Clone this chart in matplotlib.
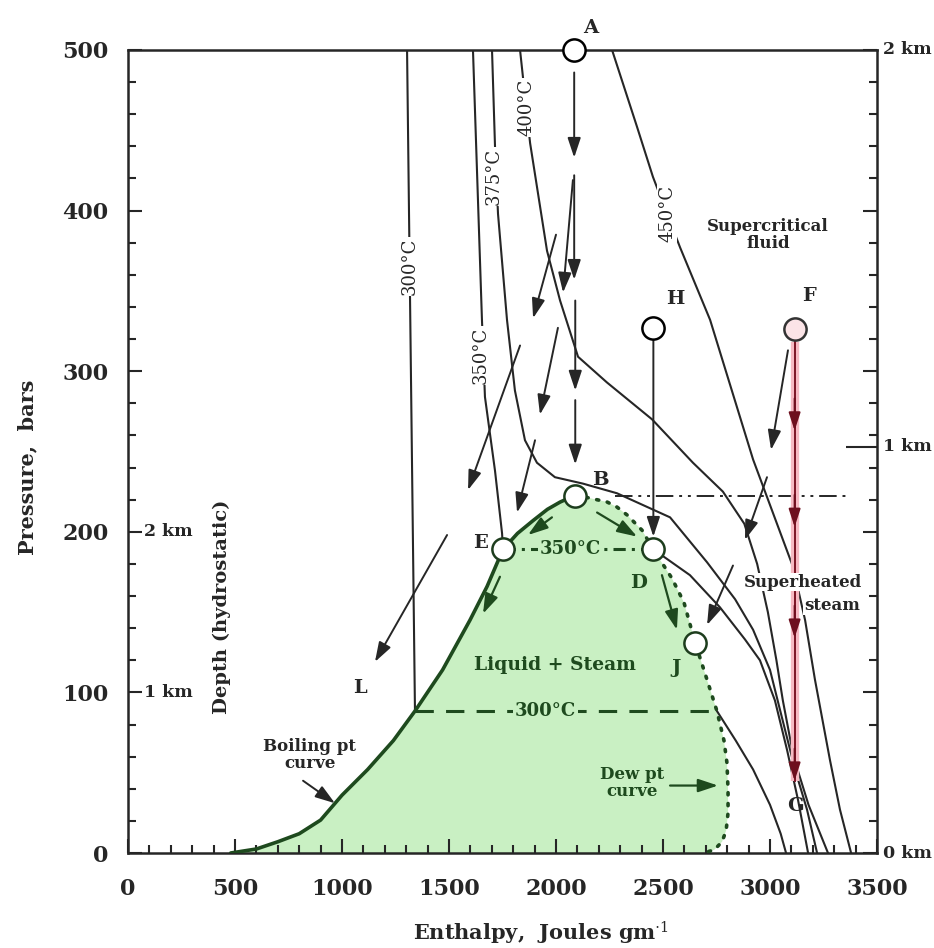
import numpy as np
import matplotlib.pyplot as plt
from matplotlib.ticker import MultipleLocator

plt.rcParams['font.family'] = ['DejaVu Serif']
plt.rcParams['mathtext.fontset'] = 'dejavuserif'

# two-phase dome, enthalpy (J/g) vs pressure (bars)
boil_h = [480, 600, 700, 800, 900, 1000, 1120, 1240, 1341, 1470, 1598, 1678, 1752, 1820, 1893, 1960, 2019, 2060, 2090]
boil_p = [0, 2.5, 7, 12, 20.5, 36, 52, 70, 88.4, 114, 145, 166, 189, 199, 207, 214, 218.5, 221, 222]
dew_h = [2090, 2140, 2238, 2285, 2332, 2402, 2455, 2542, 2598, 2650, 2696, 2752, 2785, 2799, 2804, 2804, 2795, 2776, 2740, 2690]
dew_p = [222, 221.5, 218.6, 215.4, 210.5, 201, 189, 171, 156, 131, 112, 88.4, 70, 56, 39, 25, 14, 7, 2, 0]

# isotherms
t300_liq_h = [1304, 1341]
t300_liq_p = [500, 88.4]
t300_vap_h = [2752, 2840, 2921, 3000, 3050, 3075]
t300_vap_p = [88.4, 70, 52, 30, 12, 0]
t350_liq_h = [1612, 1654, 1668, 1715, 1748, 1752]
t350_liq_p = [500, 332, 284, 238, 199, 189]
t350_vap_h = [2455, 2509, 2626, 2766, 2883, 2953, 3023, 3080, 3131, 3178]
t350_vap_p = [189, 184, 173, 153, 133, 120, 95, 64, 33, 0]
t375_h = [1701, 1715, 1729, 1771, 1808, 1855, 1911, 1995, 2126, 2285, 2533, 2706, 2837, 2921, 3000, 3047, 3117, 3173, 3220]
t375_p = [500, 440, 398, 332, 288, 257, 243, 234, 230, 224, 209, 181, 158, 139, 114, 89, 52, 27, 0]
t400_h = [1832, 1861, 1879, 1958, 2019, 2103, 2238, 2449, 2640, 2780, 2880, 2940, 2990, 3030, 3060, 3110, 3180, 3271]
t400_p = [500, 464, 442, 375, 344, 309, 293, 270, 243, 225, 205, 180, 150, 120, 95, 60, 30, 0]
t450_h = [2262, 2379, 2453, 2519, 2580, 2720, 2921, 3108, 3164, 3210, 3280, 3327, 3379]
t450_p = [500, 452, 421, 398, 377, 332, 245, 178, 145, 108, 58, 27, 0]

iso_labels = ['300°C', '350°C', '375°C', '400°C', '450°C']
iso_label_h = [1316, 1650, 1708, 1861, 2519]
iso_label_p = [365, 310, 421, 464, 398]

# tie lines across the dome
tie300_h = [1341, 2752]
tie300_p = 88.4
tie350_h = [1752, 2455]
tie350_p = 189
crit_h = [2276, 3379]
crit_p = 222

# state points
pt_names = ['A', 'B', 'E', 'D', 'J', 'H', 'F']
pt_h = [2085, 2090, 1752, 2455, 2650, 2455, 3115]
pt_p = [500, 222, 189, 189, 131, 327, 326]
pt_edge = ['black', '#1d3d1d', '#1d3d1d', '#1d3d1d', '#1d3d1d', 'black', '#333333']
pt_face = ['white', 'white', 'white', 'white', 'white', 'white', '#fbe4e7']

# black process arrows (start h, start p, end h, end p)
arr_black = [
    (2085, 486, 2085, 433), (2085, 422, 2085, 357), (2090, 344, 2090, 288), (2090, 282, 2090, 242),
    (2079, 419, 2033, 349), (2000, 385, 1893, 333), (2009, 327, 1925, 273), (1902, 257, 1818, 212),
    (1832, 316, 1589, 226), (1491, 198, 1154, 119), (2455, 319, 2455, 197),
    (3084, 313, 3005, 251), (2986, 234, 2883, 195), (2827, 179, 2706, 142),
]
# green arrows inside the dome
arr_green = [
    (1981, 209, 1869, 198), (2192, 212, 2379, 197), (1738, 172, 1659, 149), (2495, 173, 2565, 139),
]
# F -> G descent
fg_h = 3115
fg_top = 318
fg_bottom = 45
fg_heads = [263, 203, 134, 45]

fig = plt.figure(figsize=(9.34, 9.48), dpi=100)
ax = fig.add_axes([128 / 934, 1 - 853 / 948, 749 / 934, 803 / 948])
ax.set_xlim(0, 3500)
ax.set_ylim(0, 500)

green_fill = '#c9f0c3'
dark_green = '#1e4a1e'
ink = '#262626'
head = '-|>,head_length=0.6,head_width=0.2'

ax.fill(np.r_[boil_h, dew_h], np.r_[boil_p, dew_p], color=green_fill, lw=0, zorder=1)
ax.plot(boil_h, boil_p, color=dark_green, lw=2.6, zorder=3, solid_capstyle='round')
ax.plot(dew_h, dew_p, color=dark_green, lw=2.6, ls=(0, (0.6, 2.4)), dash_capstyle='round', zorder=3)

for hh, pp in [(t300_liq_h, t300_liq_p), (t300_vap_h, t300_vap_p), (t350_liq_h, t350_liq_p),
               (t350_vap_h, t350_vap_p), (t375_h, t375_p), (t400_h, t400_p), (t450_h, t450_p)]:
    ax.plot(hh, pp, color=ink, lw=1.5, zorder=2)

ax.plot(tie300_h, [tie300_p] * 2, color=dark_green, lw=2.2, ls=(0, (6, 4)), zorder=2)
ax.plot(tie350_h, [tie350_p] * 2, color=dark_green, lw=2.2, ls=(0, (4, 2, 1, 2)), zorder=2)
ax.plot(crit_h, [crit_p] * 2, color=ink, lw=1.4, ls=(0, (9, 3, 1.5, 3, 1.5, 3)), zorder=2)

for lab, hh, pp in zip(iso_labels, iso_label_h, iso_label_p):
    ax.text(hh, pp, lab, rotation=90, ha='center', va='center', fontsize=13, color=ink, zorder=4,
            bbox=dict(boxstyle='square,pad=0.05', fc='white', ec='none'))

ax.text(1949, 88.4, '300°C', ha='center', va='center', fontsize=13, fontweight='bold', color=dark_green,
        zorder=4, bbox=dict(boxstyle='square,pad=0.1', fc=green_fill, ec='none'))
ax.text(2066, 189, '350°C', ha='center', va='center', fontsize=13, fontweight='bold', color=dark_green,
        zorder=4, bbox=dict(boxstyle='square,pad=0.1', fc=green_fill, ec='none'))

# F -> G path with pink highlight
ax.plot([fg_h, fg_h], [fg_top, fg_bottom], color='#f6b9c2', lw=6, zorder=2, solid_capstyle='butt')
ax.plot([fg_h, fg_h], [fg_top, fg_bottom], color='#7a1424', lw=1.4, zorder=3)
for pe in fg_heads:
    ax.annotate('', xy=(fg_h, pe), xytext=(fg_h, pe + 20),
                arrowprops=dict(arrowstyle='-|>,head_length=0.55,head_width=0.18', color='#6e0f1e',
                                lw=1.4, mutation_scale=20, shrinkA=0, shrinkB=0), zorder=3)

for x0, y0, x1, y1 in arr_black:
    ax.annotate('', xy=(x1, y1), xytext=(x0, y0),
                arrowprops=dict(arrowstyle=head, color=ink, lw=1.4, mutation_scale=20,
                                shrinkA=0, shrinkB=0), zorder=3)
for x0, y0, x1, y1 in arr_green:
    ax.annotate('', xy=(x1, y1), xytext=(x0, y0),
                arrowprops=dict(arrowstyle=head, color=dark_green, lw=1.6, mutation_scale=20,
                                shrinkA=0, shrinkB=0), zorder=3)

for name, hh, pp, ec, fc in zip(pt_names, pt_h, pt_p, pt_edge, pt_face):
    ax.plot(hh, pp, 'o', ms=16, mfc=fc, mec=ec, mew=1.8, zorder=6, clip_on=False)

# point letters
letter_pos = {'A': (2164, 514), 'B': (2206, 232), 'E': (1649, 193), 'D': (2384, 168),
              'J': (2560, 115), 'H': (2556, 345), 'F': (3182, 347), 'G': (3117, 29), 'L': (1084, 103)}
letter_col = {'A': ink, 'B': ink, 'E': ink, 'D': dark_green, 'J': dark_green, 'H': ink, 'F': ink,
              'G': ink, 'L': ink}
for k, (hh, pp) in letter_pos.items():
    ax.text(hh, pp, k, ha='center', va='center', fontsize=14, fontweight='bold',
            color=letter_col[k], zorder=7, clip_on=False)

# region annotations
ax.text(1995, 117, 'Liquid + Steam', ha='center', va='center', fontsize=13.5, fontweight='bold',
        color=dark_green, zorder=4)
ax.text(2355, 43.5, 'Dew pt\ncurve', ha='center', va='center', fontsize=12, fontweight='bold',
        color=dark_green, linespacing=1.0, zorder=4)
ax.annotate('', xy=(2757, 42), xytext=(2533, 42),
            arrowprops=dict(arrowstyle=head, color=dark_green, lw=1.6, mutation_scale=20,
                            shrinkA=0, shrinkB=0), zorder=3)
ax.text(850, 61, 'Boiling pt\ncurve', ha='center', va='center', fontsize=12, fontweight='bold',
        color=ink, linespacing=1.0, zorder=4)
ax.annotate('', xy=(967, 31), xytext=(818, 45),
            arrowprops=dict(arrowstyle=head, color=ink, lw=1.4, mutation_scale=20,
                            shrinkA=0, shrinkB=0), zorder=3)
ax.text(2991, 385, 'Supercritical\nfluid', ha='center', va='center', fontsize=12, fontweight='bold',
        color=ink, linespacing=1.0, zorder=4)
ax.text(3154, 168.7, 'Superheated', ha='center', va='center', fontsize=12, fontweight='bold',
        color=ink, zorder=4, bbox=dict(boxstyle='square,pad=0.05', fc='white', ec='none'))
ax.text(3290, 153.8, 'steam', ha='center', va='center', fontsize=12, fontweight='bold',
        color=ink, zorder=4, bbox=dict(boxstyle='square,pad=0.05', fc='white', ec='none'))
ax.text(439, 153, 'Depth (hydrostatic)', rotation=90, ha='center', va='center', fontsize=14,
        fontweight='bold', color=ink)
ax.text(75, 200, '2 km', ha='left', va='center', fontsize=12.5, fontweight='bold', color=ink)
ax.text(75, 100, '1 km', ha='left', va='center', fontsize=12.5, fontweight='bold', color=ink)

# depth scale on the right
depth_p = [0, 253, 500]
depth_lab = ['0 km', '1 km', '2 km']
for pp, lab in zip(depth_p, depth_lab):
    ax.text(3530, pp, lab, ha='left', va='center', fontsize=12.5, fontweight='bold', color=ink,
            clip_on=False)
sec = ax.secondary_yaxis('right')
sec.set_yticks([253])
sec.set_yticklabels([])
sec.tick_params(direction='in', length=22, width=1.5, color=ink)
sec.spines['right'].set_visible(False)

ax.xaxis.set_major_locator(MultipleLocator(500))
ax.xaxis.set_minor_locator(MultipleLocator(100))
ax.yaxis.set_major_locator(MultipleLocator(100))
ax.yaxis.set_minor_locator(MultipleLocator(20))
ax.tick_params(which='both', direction='in', top=False, right=True, width=1.5, color=ink)
ax.tick_params(which='major', length=10)
ax.tick_params(which='minor', length=6)
ax.tick_params(axis='y', pad=14, labelsize=16)
ax.tick_params(axis='x', pad=18, labelsize=16)
for lab in ax.get_xticklabels() + ax.get_yticklabels():
    lab.set_fontweight('bold')
    lab.set_color(ink)
for sp in ax.spines.values():
    sp.set_linewidth(1.8)
    sp.set_color(ink)

fig.text(541 / 934, 1 - 933 / 948, 'Enthalpy,  Joules gm$^{\\cdot 1}$', ha='center', va='center',
         fontsize=15, fontweight='bold', color=ink)
fig.text(27 / 934, 1 - 467 / 948, 'Pressure,  bars', rotation=90, ha='center', va='center',
         fontsize=15, fontweight='bold', color=ink)

fig.savefig('out.png', dpi=100, facecolor='white')
